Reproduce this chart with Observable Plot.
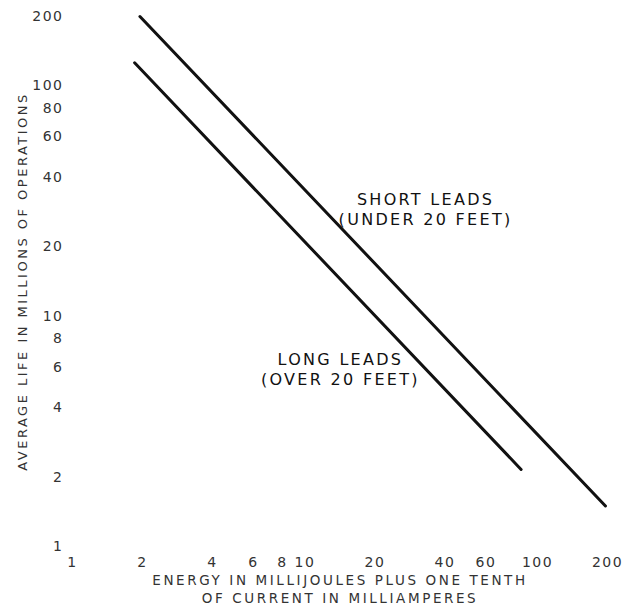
<!DOCTYPE html>
<html><head><meta charset="utf-8">
<script src="https://cdn.jsdelivr.net/npm/d3@7"></script>
<script src="https://cdn.jsdelivr.net/npm/@observablehq/plot@0.6"></script>
<style>
body{margin:0;background:#fff}
svg{display:block}
.ann text{letter-spacing:2.3px}
.ttlx text{letter-spacing:2.6px}
.ttly text{letter-spacing:2.5px}
.tk text{letter-spacing:1.5px}
</style>
</head><body><div id="chart"></div>
<script>
// Tick values
const xTicks = [1, 2, 4, 6, 8, 10, 20, 40, 60, 100, 200];
const yTicks = [1, 2, 4, 6, 8, 10, 20, 40, 60, 80, 100, 200];

// Series (endpoints of the straight log-log lines)
const shortLeadsX = [1.95, 196];
const shortLeadsY = [200, 1.5];
const longLeadsX = [1.85, 85];
const longLeadsY = [126, 2.16];

// Annotations
const annotText = ["SHORT LEADS\n(UNDER 20 FEET)", "LONG LEADS\n(OVER 20 FEET)"];
const annotX = [33, 14.2];
const annotY = [29.2, 5.91];

const xTitle = "ENERGY IN MILLIJOULES PLUS ONE TENTH\nOF CURRENT IN MILLIAMPERES";
const yTitle = "AVERAGE LIFE IN MILLIONS OF OPERATIONS";

const shortData = shortLeadsX.map((x, i) => ({x, y: shortLeadsY[i]}));
const longData = longLeadsX.map((x, i) => ({x, y: longLeadsY[i]}));
const annots = annotText.map((t, i) => ({t, x: annotX[i], y: annotY[i]}));

const chart = Plot.plot({
  width: 626,
  height: 605,
  marginLeft: 72,
  marginRight: 19,
  marginTop: 16,
  marginBottom: 59,
  style: {fontFamily: "DejaVu Sans", background: "#fff", color: "#333"},
  x: {type: "log", domain: [1, 200], axis: null},
  y: {type: "log", domain: [1, 200], axis: null},
  marks: [
    // tick labels, positioned by the x / y scales
    Plot.text(xTicks, {x: d => d, text: d => String(d), frameAnchor: "bottom", lineAnchor: "middle", dy: 16, fontSize: 14, fill: "#333", className: "tk"}),
    Plot.text(yTicks, {y: d => d, text: d => String(d), frameAnchor: "left", textAnchor: "end", dx: -9, fontSize: 14, fill: "#333", className: "tk"}),
    Plot.line(shortData, {x: "x", y: "y", stroke: "#111", strokeWidth: 3, strokeLinecap: "round"}),
    Plot.line(longData, {x: "x", y: "y", stroke: "#111", strokeWidth: 3, strokeLinecap: "round"}),
    Plot.text(annots, {x: "x", y: "y", text: "t", fontSize: 16, lineHeight: 1.25, fill: "#111", className: "ann"}),
    Plot.text([xTitle], {frameAnchor: "bottom", lineAnchor: "middle", textAnchor: "middle", dy: 42, fontSize: 13.5, lineHeight: 1.33, fill: "#333", className: "ttlx"}),
    Plot.text([yTitle], {frameAnchor: "left", textAnchor: "middle", lineAnchor: "middle", dx: -50, rotate: -90, fontSize: 13, fill: "#333", className: "ttly"})
  ]
});
document.getElementById("chart").appendChild(chart);
</script>
</body></html>
